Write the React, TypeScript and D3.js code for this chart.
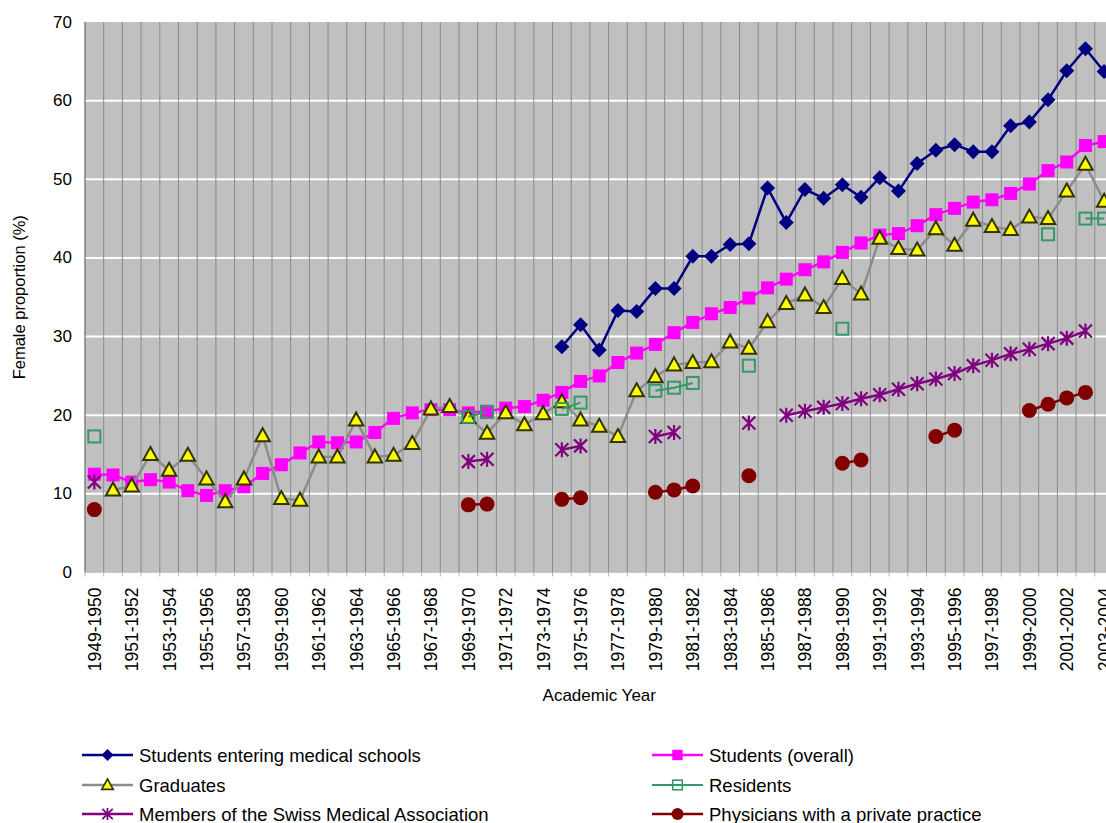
import React from "react";
import * as d3 from "d3";

const categories: string[] = [
  "1949-1950","1950-1951","1951-1952","1952-1953","1953-1954","1954-1955","1955-1956","1956-1957","1957-1958","1958-1959",
  "1959-1960","1960-1961","1961-1962","1962-1963","1963-1964","1964-1965","1965-1966","1966-1967","1967-1968","1968-1969",
  "1969-1970","1970-1971","1971-1972","1972-1973","1973-1974","1974-1975","1975-1976","1976-1977","1977-1978","1978-1979",
  "1979-1980","1980-1981","1981-1982","1982-1983","1983-1984","1984-1985","1985-1986","1986-1987","1987-1988","1988-1989",
  "1989-1990","1990-1991","1991-1992","1992-1993","1993-1994","1994-1995","1995-1996","1996-1997","1997-1998","1998-1999",
  "1999-2000","2000-2001","2001-2002","2002-2003","2003-2004"
];

const _ = null;

const studentsEntering: (number | null)[] = [
  _, _, _, _, _, _, _, _, _, _,
  _, _, _, _, _, _, _, _, _, _,
  _, _, _, _, _, 28.7, 31.5, 28.3, 33.3, 33.2,
  36.1, 36.1, 40.2, 40.2, 41.7, 41.8, 48.9, 44.5, 48.7, 47.6,
  49.3, 47.7, 50.2, 48.5, 52.0, 53.7, 54.4, 53.5, 53.5, 56.8,
  57.3, 60.1, 63.8, 66.6, 63.7
];

const studentsOverall: (number | null)[] = [
  12.5, 12.4, 11.5, 11.8, 11.5, 10.4, 9.8, 10.4, 10.9, 12.6,
  13.7, 15.2, 16.6, 16.5, 16.6, 17.8, 19.6, 20.3, 20.7, 20.7,
  20.3, 20.5, 20.9, 21.1, 21.9, 22.9, 24.3, 25.0, 26.7, 27.9,
  29.0, 30.5, 31.8, 32.9, 33.7, 34.9, 36.2, 37.3, 38.5, 39.5,
  40.7, 41.9, 42.9, 43.1, 44.1, 45.5, 46.3, 47.1, 47.4, 48.2,
  49.4, 51.1, 52.2, 54.3, 54.8
];

const graduates: (number | null)[] = [
  _, 10.5, 11.0, 15.0, 13.0, 14.9, 11.9, 9.0, 11.9, 17.4,
  9.4, 9.2, 14.7, 14.7, 19.4, 14.7, 14.9, 16.4, 20.8, 21.1,
  19.7, 17.7, 20.3, 18.8, 20.2, 21.7, 19.4, 18.6, 17.3, 23.1,
  24.9, 26.4, 26.7, 26.8, 29.3, 28.5, 31.9, 34.2, 35.3, 33.7,
  37.4, 35.4, 42.5, 41.2, 41.0, 43.7, 41.6, 44.8, 44.0, 43.6,
  45.2, 45.0, 48.5, 51.9, 47.2
];

const residents: (number | null)[] = [
  17.3, _, _, _, _, _, _, _, _, _,
  _, _, _, _, _, _, _, _, _, _,
  19.8, 20.4, _, _, _, 20.8, 21.6, _, _, _,
  23.1, 23.5, 24.1, _, _, 26.3, _, _, _, _,
  31.0, _, _, _, _, _, _, _, _, _,
  _, 43.0, _, 45.0, 45.0
];

const smaMembers: (number | null)[] = [
  11.5, _, _, _, _, _, _, _, _, _,
  _, _, _, _, _, _, _, _, _, _,
  14.1, 14.4, _, _, _, 15.6, 16.1, _, _, _,
  17.3, 17.8, _, _, _, 19.0, _, 20.0, 20.5, 21.0,
  21.5, 22.1, 22.6, 23.3, 24.0, 24.6, 25.3, 26.3, 27.0, 27.8,
  28.4, 29.1, 29.8, 30.7, _
];

const privatePractice: (number | null)[] = [
  8.0, _, _, _, _, _, _, _, _, _,
  _, _, _, _, _, _, _, _, _, _,
  8.6, 8.7, _, _, _, 9.3, 9.5, _, _, _,
  10.2, 10.5, 11.0, _, _, 12.3, _, _, _, _,
  13.9, 14.3, _, _, _, 17.3, 18.1, _, _, _,
  20.6, 21.4, 22.2, 22.9, _
];

const yTicks: number[] = [0, 10, 20, 30, 40, 50, 60, 70];

type MarkerKind = "diamond" | "square" | "triangle" | "hollowSquare" | "star" | "circle";

interface Series {
  name: string;
  values: (number | null)[];
  color: string;
  marker: MarkerKind;
  width: number;
}

const seriesList: Series[] = [
  { name: "Students entering medical schools", values: studentsEntering, color: "#000080", marker: "diamond", width: 2.5 },
  { name: "Students (overall)", values: studentsOverall, color: "#FF00FF", marker: "square", width: 2.5 },
  { name: "Graduates", values: graduates, color: "#8C8C8C", marker: "triangle", width: 2.5 },
  { name: "Residents", values: residents, color: "#339966", marker: "hollowSquare", width: 2 },
  { name: "Members of the Swiss Medical Association", values: smaMembers, color: "#800080", marker: "star", width: 2.5 },
  { name: "Physicians with a private practice", values: privatePractice, color: "#800000", marker: "circle", width: 2.5 },
];

const FONT = "'Liberation Sans', Arial, sans-serif";

function Marker({ kind, color, x, y, s = 1 }: { kind: MarkerKind; color: string; x: number; y: number; s?: number }) {
  const t = `translate(${x},${y}) scale(${s})`;
  switch (kind) {
    case "diamond":
      return <path transform={t} d="M0,-7.5L7.5,0L0,7.5L-7.5,0Z" fill={color} />;
    case "square":
      return <rect transform={t} x={-6.5} y={-6.5} width={13} height={13} fill={color} />;
    case "triangle":
      return <path transform={t} d="M0,-7.5L7.2,5.5L-7.2,5.5Z" fill="#FFFF00" stroke="#333300" strokeWidth={2} strokeLinejoin="miter" />;
    case "hollowSquare":
      return <rect transform={t} x={-6} y={-6} width={12} height={12} fill="none" stroke={color} strokeWidth={2} />;
    case "star":
      return (
        <path
          transform={t}
          d="M-6.5,-6.5L6.5,6.5M-6.5,6.5L6.5,-6.5M0,-7.5L0,7.5"
          stroke={color}
          strokeWidth={2.2}
          fill="none"
        />
      );
    case "circle":
      return <circle transform={t} r={7.5} fill={color} />;
  }
  return null;
}

export default function App() {
  const W = 1106;
  const H = 823;
  const left = 85;
  const band = 18.7;
  const right = left + band * categories.length;
  const top = 22;
  const bottom = 572.5;

  const x = d3.scaleBand<string>().domain(categories).range([left, right]).padding(0);
  const y = d3.scaleLinear().domain([0, 70]).range([bottom, top]);
  const cx = (i: number) => (x(categories[i]) as number) + x.bandwidth() / 2;

  const lineGen = d3
    .line<number | null>()
    .defined((d) => d != null)
    .x((_d, i) => cx(i))
    .y((d) => y(d as number));

  const legendItems = [
    { s: seriesList[0], lx: 82, ly: 755 },
    { s: seriesList[1], lx: 652, ly: 755 },
    { s: seriesList[2], lx: 82, ly: 785 },
    { s: seriesList[3], lx: 652, ly: 785 },
    { s: seriesList[4], lx: 82, ly: 814 },
    { s: seriesList[5], lx: 652, ly: 814 },
  ];

  return (
    <svg
      width={W}
      height={H}
      style={{ position: "absolute", left: 0, top: 0, background: "#fff" }}
      fontFamily={FONT}
    >
      <defs>
        <clipPath id="vis">
          <rect x={0} y={0} width={W} height={H} />
        </clipPath>
      </defs>
      <rect x={left} y={top} width={right - left} height={bottom - top} fill="#C0C0C0" />
      {yTicks.filter((t) => t > 0 && t < 70).map((t) => (
        <line key={"h" + t} x1={left} x2={right} y1={y(t)} y2={y(t)} stroke="#FFFFFF" strokeWidth={2} />
      ))}
      {categories.map((c, i) =>
        i === 0 ? null : (
          <line key={"v" + c} x1={x(c) as number} x2={x(c) as number} y1={top} y2={bottom} stroke="#8A8A8A" strokeWidth={1} />
        )
      )}
      <line x1={left} x2={left} y1={top} y2={bottom} stroke="#808080" strokeWidth={1.5} />
      {categories.map((c) => (
        <line key={"t" + c} x1={x(c) as number} x2={x(c) as number} y1={bottom} y2={bottom + 4} stroke="#B0B0B0" strokeWidth={1} />
      ))}
      <line x1={left} x2={right} y1={bottom} y2={bottom} stroke="#C8C8C8" strokeWidth={1} />
      {yTicks.map((t) => (
        <text key={"yl" + t} x={72} y={y(t)} textAnchor="end" dominantBaseline="central" fontSize={17} fill="#000">
          {t}
        </text>
      ))}
      {categories.map((c, i) =>
        i % 2 === 0 ? (
          <text
            key={"xl" + c}
            transform={`translate(${cx(i) + 0.5},${bottom + 15}) rotate(-90)`}
            textAnchor="end"
            dominantBaseline="central"
            fontSize={17.5}
            fill="#000"
          >
            {c}
          </text>
        ) : null
      )}
      <text x={(left + right) / 2} y={695} textAnchor="middle" dominantBaseline="central" fontSize={17} fill="#000">
        Academic Year
      </text>
      <text
        transform={`translate(19,${(top + bottom) / 2}) rotate(-90)`}
        textAnchor="middle"
        dominantBaseline="central"
        fontSize={16.5}
        fill="#000"
      >
        Female proportion (%)
      </text>
      <g clipPath="url(#vis)">
        {seriesList.map((s) => (
          <g key={s.name}>
            <path d={lineGen(s.values) || ""} fill="none" stroke={s.color} strokeWidth={s.width} strokeLinejoin="round" />
            {s.values.map((v, i) =>
              v == null ? null : <Marker key={i} kind={s.marker} color={s.color} x={cx(i)} y={y(v)} />
            )}
          </g>
        ))}
      </g>
      {legendItems.map(({ s, lx, ly }) => (
        <g key={"lg" + s.name}>
          <line x1={lx} x2={lx + 51} y1={ly} y2={ly} stroke={s.color} strokeWidth={s.width} />
          <Marker kind={s.marker} color={s.color} x={lx + 25.5} y={ly} s={0.8} />
          <text x={lx + 57} y={ly} dominantBaseline="central" fontSize={18.5} fill="#000">
            {s.name}
          </text>
        </g>
      ))}
    </svg>
  );
}
